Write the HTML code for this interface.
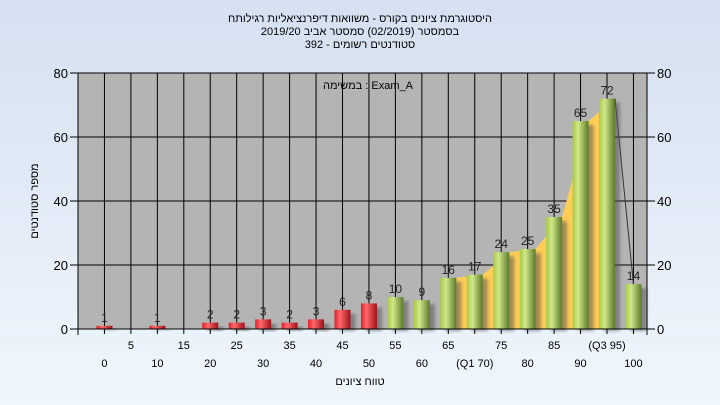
<!DOCTYPE html>
<html><head><meta charset="utf-8">
<style>
body{margin:0;width:720px;height:405px;overflow:hidden;font-family:"Liberation Sans","Noto Sans CJK SC",sans-serif;}
svg{display:block}
</style></head>
<body>
<svg id="chart" width="720" height="405" xmlns="http://www.w3.org/2000/svg" font-family="Liberation Sans, sans-serif">
<defs>
<linearGradient id="bg" x1="0" y1="0" x2="0" y2="1"><stop offset="0" stop-color="#d5e1f1"/><stop offset="1" stop-color="#eff6fd"/></linearGradient>
<linearGradient id="red" x1="0" y1="0" x2="1" y2="0"><stop offset="0" stop-color="#e0202a"/><stop offset="0.35" stop-color="#ff6a6a"/><stop offset="1" stop-color="#a01018"/></linearGradient>
<linearGradient id="green" x1="0" y1="0" x2="1" y2="0"><stop offset="0" stop-color="#a8c848"/><stop offset="0.35" stop-color="#d0e888"/><stop offset="1" stop-color="#5a7a2a"/></linearGradient>
<filter id="sh" x="-20%" y="-5%" width="160%" height="115%"><feGaussianBlur stdDeviation="1.5"/></filter>
</defs>
<rect width="720" height="405" fill="url(#bg)"/>
<g font-size="11" fill="#000" text-anchor="middle">
<text x="360" y="22" font-family="Liberation Sans, Noto Sans CJK SC, sans-serif">היסטוגרמת ציונים בקורס - משוואות דיפרנציאליות רגילותח</text>
<text x="360" y="35">בסמסטר  (02/2019)  סמסטר אביב 2019/20</text>
<text x="360" y="48">סטודנטים רשומים - 392</text>
</g>
<rect x="78" y="73" width="569" height="256" fill="#b4b4b4"/>
<g id="grid"></g>
<g id="area"></g>
<g id="bars"></g>
<g id="axes"></g>
<text x="368" y="89" font-size="11" text-anchor="middle">במשימה : Exam_A</text>
<text x="360" y="385" font-size="11" text-anchor="middle">טווח ציונים</text>
<text transform="translate(38,201) rotate(-90)" font-size="11" text-anchor="middle">מספר סטודנטים</text>
</svg>
<script>
const categories=["0","5","10","15","20","25","30","35","40","45","50","55","60","65","(Q1 70)","75","80","85","90","(Q3 95)","100"];
const counts=[1,0,1,0,2,2,3,2,3,6,8,10,9,16,17,24,25,35,65,72,14];
const yTicks=[0,20,40,60,80];
const areaStart=14, areaEnd=19;
const NS="http://www.w3.org/2000/svg";
const L=78,R=647,T=73,B=329,step=26.45;
function x(i){return L+(i+1)*step;}
function y(v){return B-(v/80)*(B-T);}
function mk(tag,attrs,parent){const e=document.createElementNS(NS,tag);for(const k in attrs)e.setAttribute(k,attrs[k]);parent.appendChild(e);return e;}
const grid=document.getElementById('grid'),bars=document.getElementById('bars'),axes=document.getElementById('axes'),area=document.getElementById('area');
yTicks.forEach(v=>{const l=mk('line',{x1:L,x2:R,y1:y(v),y2:y(v),stroke:'#000','stroke-width':1},grid);

});
mk('line',{x1:L,x2:L,y1:T,y2:B,stroke:'#000'},grid);
for(let i=0;i<categories.length;i++){const l=mk('line',{x1:x(i),x2:x(i),y1:T,y2:B,stroke:'#000'},grid);

}
// area
let pts=[];for(let i=areaStart-1;i<=areaEnd;i++)pts.push((x(i)+8)+','+y(counts[i]));
pts.push((x(areaEnd)+8)+','+B,(x(areaStart-1)+8)+','+B);
const poly=mk('polygon',{points:pts.join(' '),fill:'#ffcc55'},area);


const tl=mk('line',{x1:x(areaEnd)+8,y1:y(counts[areaEnd]),x2:x(areaEnd+1),y2:y(counts[areaEnd+1]),stroke:'#333','stroke-width':1},area);


counts.forEach((v,i)=>{
 if(v<=0)return;
 const h=B-y(v),bx=x(i)-8;
 mk('rect',{x:bx+5,y:y(v)+4,width:16,height:h-2,fill:'#555',opacity:0.55,filter:'url(#sh)'},bars);
 const r=mk('rect',{x:bx,y:y(v),width:16,height:h,fill:i<11?'url(#red)':'url(#green)'},bars);
 
 
 const t=mk('text',{x:x(i),y:y(v)-4,'font-size':12,'text-anchor':'middle',fill:'#222'},bars);t.textContent=v;
 
 
});
mk('line',{x1:L-8,x2:R+8,y1:B,y2:B,stroke:'#000'},axes);
mk('line',{x1:L,x2:L,y1:T,y2:B+6,stroke:'#000'},axes);
mk('line',{x1:R,x2:R,y1:T,y2:B+6,stroke:'#000'},axes);
yTicks.forEach(v=>{
 mk('line',{x1:L-8,x2:L,y1:y(v),y2:y(v),stroke:'#000'},axes);
 mk('line',{x1:R,x2:R+8,y1:y(v),y2:y(v),stroke:'#000'},axes);
 const a=mk('text',{x:L-10,y:y(v)+5,'font-size':13,'text-anchor':'end'},axes);a.textContent=v;
 
 
 const b=mk('text',{x:R+10,y:y(v)+5,'font-size':13,'text-anchor':'start'},axes);b.textContent=v;
 
 
});
categories.forEach((c,i)=>{
 mk('line',{x1:x(i),x2:x(i),y1:B,y2:B+5,stroke:'#000'},axes);
 const t=mk('text',{x:x(i),y:i%2?349:367,'font-size':11,'text-anchor':'middle'},axes);t.textContent=c;
 
 
});
</script>
</body></html>
